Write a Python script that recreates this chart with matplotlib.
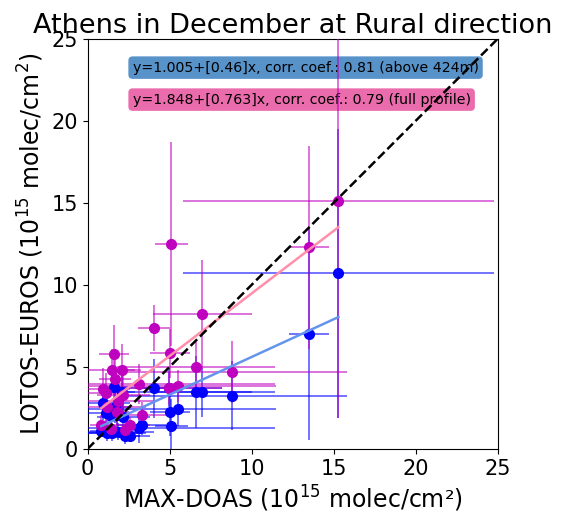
import matplotlib
matplotlib.use("Agg")
import matplotlib.pyplot as plt
import numpy as np

# shared MAX-DOAS values and their errors
x = [15.3, 13.5, 8.8, 7.0, 6.62, 5.5, 5.03, 5.1, 4.99, 4.05,
     3.3, 3.14, 2.59, 2.29, 2.18, 2.12, 1.88, 1.82, 1.68, 1.63,
     1.47, 1.41, 1.17, 1.13, 0.97, 0.84]
xerr = [9.5, 1.2, 7.0, 3.0, 4.8, 6.0, 1.2, 1.0, 3.2, 1.0,
        1.5, 8.3, 1.2, 0.9, 1.6, 0.8, 2.2, 0.7, 1.0, 0.9,
        1.8, 0.6, 2.4, 1.3, 1.6, 0.7]

# LOTOS-EUROS above 424 m
y_above = [10.7, 7.0, 3.25, 3.46, 3.46, 2.42, 2.28, 1.42, 3.74, 3.7,
           1.46, 1.26, 0.8, 0.8, 1.97, 3.5, 1.06, 2.07, 2.58, 3.76,
           0.96, 2.0, 1.0, 2.2, 2.78, 1.1]
yerr_above = [8.8, 6.45, 2.1, 1.5, 2.2, 1.0, 1.5, 1.6, 1.2, 1.8,
              0.6, 0.9, 0.4, 0.5, 0.9, 1.2, 0.5, 0.8, 1.0, 1.3,
              0.5, 0.7, 0.5, 0.9, 1.0, 0.4]

# LOTOS-EUROS full profile
y_full = [15.1, 12.3, 4.68, 8.2, 5.0, 3.84, 5.83, 12.5, 3.7, 7.4,
          2.07, 3.96, 1.46, 1.16, 3.29, 4.82, 2.9, 2.27, 4.27, 5.77,
          4.82, 1.2, 2.54, 3.4, 3.64, 1.48]
yerr_full = [13.2, 6.2, 1.9, 3.3, 1.5, 1.0, 1.5, 6.2, 1.0, 1.4,
             0.8, 1.2, 0.5, 0.6, 1.3, 1.6, 1.1, 0.9, 1.4, 1.8,
             1.3, 0.6, 0.9, 1.2, 1.3, 0.6]

fit_above = (1.005, 0.46, 0.81)
fit_full = (1.848, 0.763, 0.79)

fig = plt.figure(figsize=(5.61, 5.19), dpi=100)
ax = fig.add_axes([0.156, 0.135, 0.731, 0.79])

ax.plot([0, 25], [0, 25], 'k--', lw=1.8, zorder=5)

ax.errorbar(x, y_above, xerr=xerr, yerr=yerr_above, fmt='o', color='blue',
            ms=7, elinewidth=1.1, ecolor=(0, 0, 1, 0.7), zorder=3)
ax.errorbar(x, y_full, xerr=xerr, yerr=yerr_full, fmt='o', color='m',
            ms=7, elinewidth=1.1, ecolor=(0.75, 0, 0.75, 0.7), zorder=3)

xs = np.array([min(x), max(x)])
ax.plot(xs, fit_above[0] + fit_above[1] * xs, color='cornflowerblue', lw=1.8, zorder=4)
ax.plot(xs, fit_full[0] + fit_full[1] * xs, color='#ff8fab', lw=1.8, zorder=4)

ax.text(0.11, 0.93,
        'y=%.3f+[%.2f]x, corr. coef.: %.2f (above 424m)' % fit_above,
        transform=ax.transAxes, fontsize=10.2, va='center', zorder=2,
        bbox=dict(boxstyle='round,pad=0.3', fc='#3a7fc0', ec='none', alpha=0.85))
ax.text(0.11, 0.852,
        'y=%.3f+[%.3f]x, corr. coef.: %.2f (full profile)' % fit_full,
        transform=ax.transAxes, fontsize=10.2, va='center', zorder=2,
        bbox=dict(boxstyle='round,pad=0.3', fc='#e8529e', ec='none', alpha=0.85))

ax.set_xlim(0, 25)
ax.set_ylim(0, 25)
ax.set_xticks([0, 5, 10, 15, 20, 25])
ax.set_yticks([0, 5, 10, 15, 20, 25])
ax.tick_params(labelsize=15)
ax.set_xlabel('MAX-DOAS (10$^{15}$ molec/cm²)', fontsize=17)
ax.set_ylabel('LOTOS-EUROS (10$^{15}$ molec/cm$^2$)', fontsize=17)
ax.set_title('Athens in December at Rural direction', fontsize=19.5, pad=2)

fig.savefig('out.png', dpi=100)
